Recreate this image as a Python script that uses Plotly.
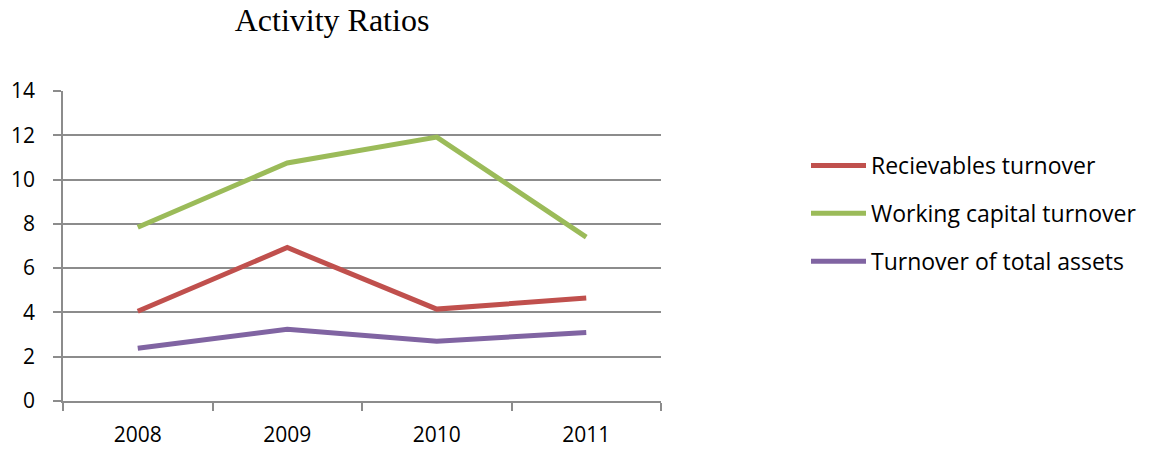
import plotly.graph_objects as go

years = ["2008", "2009", "2010", "2011"]
receivables = [4.05, 6.93, 4.15, 4.65]
working_capital = [7.85, 10.75, 11.92, 7.4]
total_assets = [2.38, 3.24, 2.7, 3.09]
series_names = ["Recievables turnover", "Working capital turnover", "Turnover of total assets"]
colors = ["#C0504D", "#9BBB59", "#8064A2"]

fig = go.Figure()
for i, (name, vals) in enumerate(zip(series_names, [receivables, working_capital, total_assets])):
    fig.add_trace(go.Scatter(x=years, y=vals, mode="lines", name=name,
                             line=dict(color=colors[i], width=5),
                             legendgroup=str(i)))

grid = "#8C8C8C"
fig.update_layout(
    width=1155, height=451,
    margin=dict(l=63, r=494, t=91, b=50, autoexpand=False),
    paper_bgcolor="white", plot_bgcolor="white",
    title=dict(text="Activity Ratios", x=332/1155, xanchor="center", y=1-20/451, yanchor="middle",
               font=dict(family="Liberation Serif", size=32, color="black")),
    font=dict(family="Open Sans", size=21, color="black"),
    showlegend=True,
    legend=dict(x=(806-63)/598, xanchor="left", y=(401-144)/310, yanchor="top", tracegroupgap=15,
                itemwidth=55,
                font=dict(family="Open Sans", size=23, color="black"), bgcolor="rgba(0,0,0,0)"),
    xaxis=dict(type="category", range=[-0.5, 3.5], tickson="boundaries", ticks="outside",
               ticklen=8, tickcolor=grid, tickwidth=1.5, showgrid=False, showline=True, linecolor=grid,
               linewidth=1.5, ticklabelstandoff=14, automargin=False,
               tickfont=dict(size=21), fixedrange=True),
    yaxis=dict(range=[0, 14], dtick=2, ticks="outside", ticklen=8, tickcolor=grid, tickwidth=1.5,
               showgrid=True, gridcolor=grid, gridwidth=1.5, showline=True, linecolor=grid, linewidth=1.5,
               zeroline=False, ticklabelstandoff=14, automargin=False,
               tickfont=dict(size=21), fixedrange=True),
)

fig.write_html("out.html")
